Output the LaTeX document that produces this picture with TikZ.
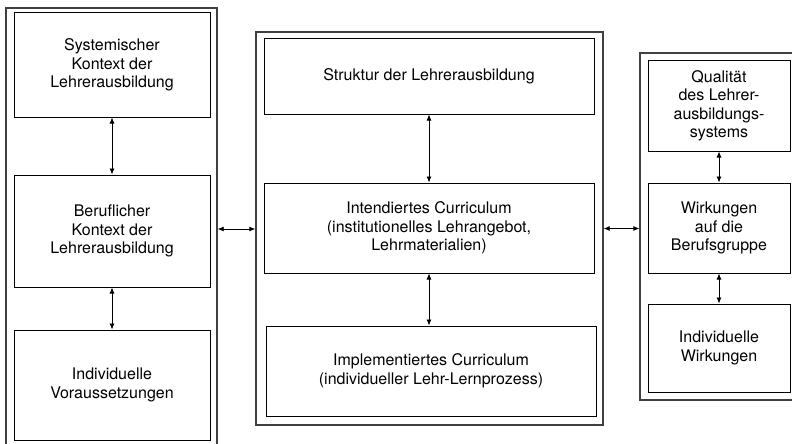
\documentclass[tikz,border=0pt]{standalone}
\usepackage{fontspec}
\setmainfont{TeX Gyre Heros}
\usetikzlibrary{arrows.meta}

\begin{document}
\begin{tikzpicture}[x=1pt,y=-1pt,
  frame/.style={draw=black!75,line width=1.3pt,inner sep=0pt},
  box/.style={draw,line width=1pt,align=center,inner sep=0pt,font=\fontsize{16}{18.5}\selectfont},
  link/.style={{Latex[length=6pt,width=5pt]}-{Latex[length=6pt,width=5pt]},line width=0.8pt}]
  \clip (0,0) rectangle (792,444);
  % Rahmen
  \node[frame,minimum width=211pt,minimum height=442pt] (L) at (111.5,229) {};
  \node[frame,minimum width=347pt,minimum height=393pt] (M) at (429.5,228.5) {};
  \node[frame,minimum width=160pt,minimum height=347pt] (R) at (720,226.5) {};
  % linke Spalte
  \node[box,minimum width=196pt,minimum height=104pt] (l1) at (112,65) {Systemischer\\Kontext der\\Lehrerausbildung};
  \node[box,minimum width=196pt,minimum height=112pt] (l2) at (112,231) {Beruflicher\\Kontext der\\Lehrerausbildung};
  \node[box,minimum width=196pt,minimum height=110pt] (l3) at (112,385) {Individuelle\\Voraussetzungen};
  % mittlere Spalte
  \node[box,minimum width=330pt,minimum height=75pt] (m1) at (429,76.5) {Struktur der Lehrerausbildung};
  \node[box,minimum width=330pt,minimum height=90pt] (m2) at (429,228) {Intendiertes Curriculum\\(institutionelles Lehrangebot,\\Lehrmaterialien)};
  \node[box,minimum width=330pt,minimum height=90pt] (m3) at (431,371) {Implementiertes Curriculum\\(individueller Lehr-Lernprozess)};
  % rechte Spalte
  \node[box,minimum width=142pt,minimum height=90pt] (r1) at (719,106) {Qualit\"at\\des Lehrer-\\ausbildungs-\\systems};
  \node[box,minimum width=142pt,minimum height=90pt] (r2) at (719,228) {Wirkungen\\auf die\\Berufsgruppe};
  \node[box,minimum width=142pt,minimum height=88pt] (r3) at (719,348) {Individuelle\\Wirkungen};
  % Pfeile
  \foreach \a/\b in {l1/l2,l2/l3,m1/m2,m2/m3,r1/r2,r2/r3}
    \draw[link] (\a.south) -- (\a.south |- \b.north);
  \draw[link] (L.east) -- (L.east -| M.west);
  \draw[link] (M.east) -- (M.east -| R.west);
\end{tikzpicture}
\end{document}
